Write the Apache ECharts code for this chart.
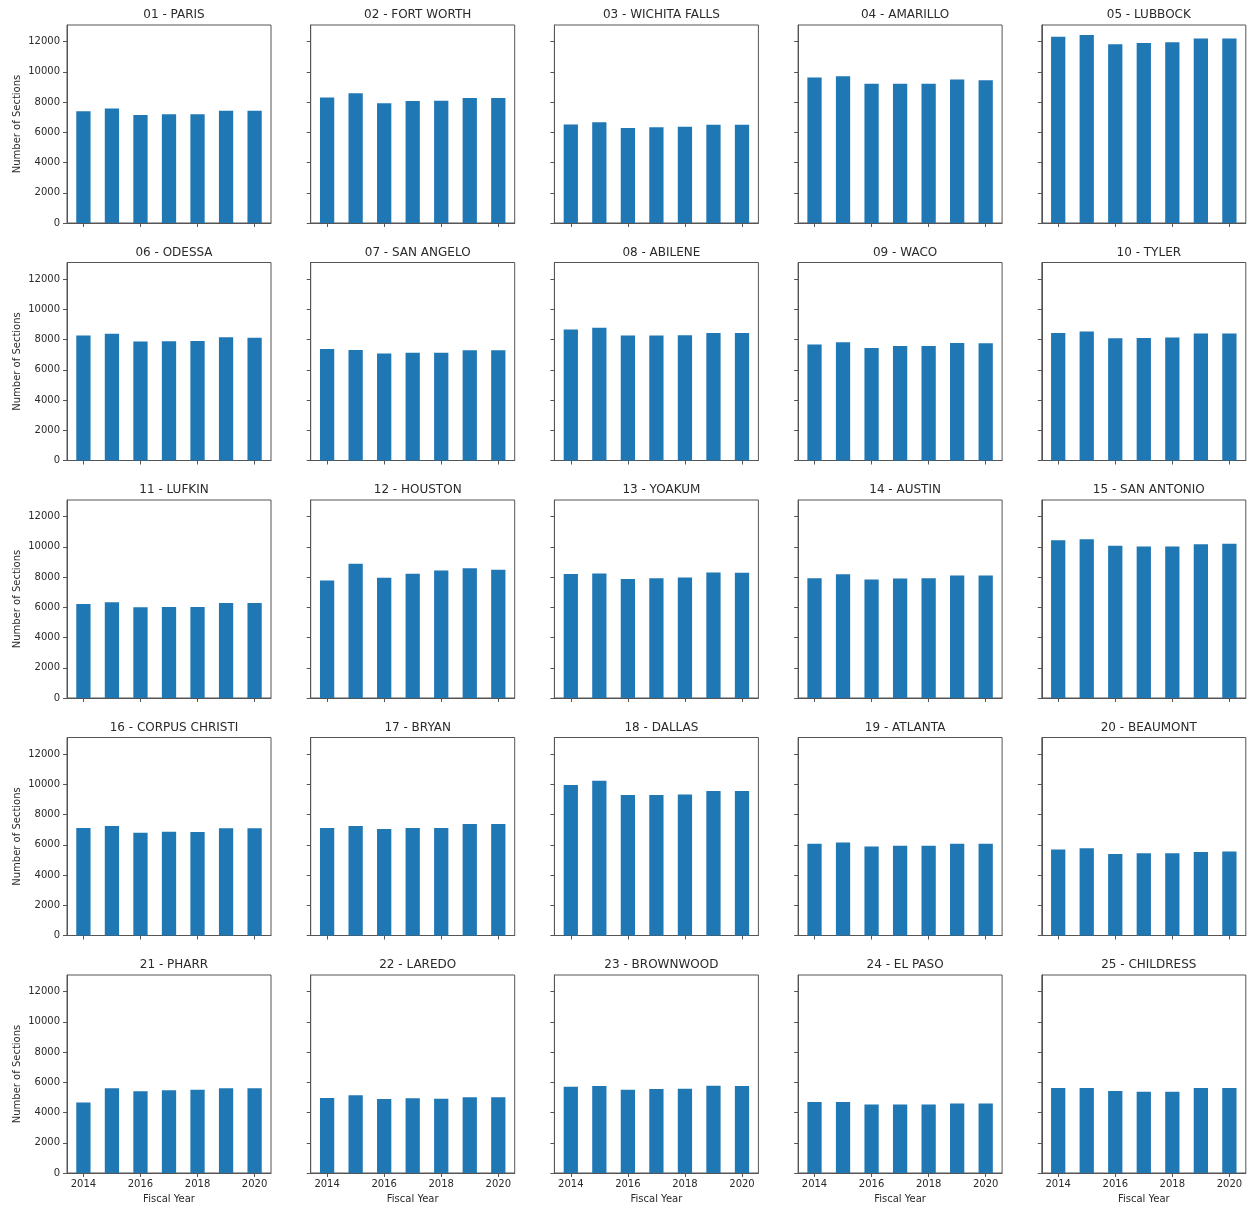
<!DOCTYPE html>
<html>
<head>
<meta charset="utf-8">
<script src="https://cdn.jsdelivr.net/npm/echarts@6/dist/echarts.min.js"></script>
<style>
html,body{margin:0;padding:0;background:#fff;}
#chart{width:1251px;height:1214px;}
</style>
</head>
<body>
<div id="chart"></div>
<script>
// ---- data ----
const years = [2014, 2015, 2016, 2017, 2018, 2019, 2020];
const xTickLabels = [2014, 2016, 2018, 2020];
const yTickLabels = [0, 2000, 4000, 6000, 8000, 10000, 12000];
const districts = [
  '01 - PARIS', '02 - FORT WORTH', '03 - WICHITA FALLS', '04 - AMARILLO', '05 - LUBBOCK',
  '06 - ODESSA', '07 - SAN ANGELO', '08 - ABILENE', '09 - WACO', '10 - TYLER',
  '11 - LUFKIN', '12 - HOUSTON', '13 - YOAKUM', '14 - AUSTIN', '15 - SAN ANTONIO',
  '16 - CORPUS CHRISTI', '17 - BRYAN', '18 - DALLAS', '19 - ATLANTA', '20 - BEAUMONT',
  '21 - PHARR', '22 - LAREDO', '23 - BROWNWOOD', '24 - EL PASO', '25 - CHILDRESS'
];
const paris        = [7400, 7570, 7150, 7200, 7200, 7430, 7430];
const fortWorth    = [8310, 8580, 7930, 8070, 8090, 8270, 8270];
const wichitaFalls = [6520, 6670, 6290, 6340, 6360, 6500, 6500];
const amarillo     = [9620, 9710, 9220, 9220, 9220, 9490, 9450];
const lubbock      = [12330, 12440, 11820, 11910, 11960, 12200, 12200];
const odessa       = [8270, 8380, 7870, 7890, 7910, 8160, 8120];
const sanAngelo    = [7380, 7310, 7080, 7130, 7130, 7290, 7290];
const abilene      = [8670, 8780, 8270, 8270, 8280, 8440, 8440];
const waco         = [7670, 7820, 7450, 7580, 7580, 7780, 7760];
const tyler        = [8440, 8530, 8090, 8110, 8130, 8400, 8400];
const lufkin       = [6220, 6330, 6000, 6020, 6020, 6290, 6290];
const houston      = [7780, 8890, 7960, 8220, 8440, 8580, 8490];
const yoakum       = [8200, 8240, 7870, 7930, 7980, 8310, 8290];
const austin       = [7930, 8180, 7840, 7910, 7930, 8110, 8110];
const sanAntonio   = [10440, 10510, 10070, 10020, 10020, 10180, 10200];
const corpusChristi= [7110, 7240, 6800, 6870, 6840, 7090, 7090];
const bryan        = [7110, 7240, 7040, 7110, 7110, 7380, 7380];
const dallas       = [9960, 10240, 9290, 9290, 9330, 9560, 9560];
const atlanta      = [6070, 6160, 5890, 5930, 5930, 6070, 6070];
const beaumont     = [5690, 5780, 5400, 5440, 5440, 5530, 5560];
const pharr        = [4660, 5610, 5410, 5470, 5500, 5610, 5610];
const laredo       = [4960, 5150, 4900, 4950, 4920, 5020, 5020];
const brownwood    = [5710, 5760, 5510, 5560, 5580, 5780, 5760];
const elPaso       = [4700, 4700, 4540, 4540, 4540, 4600, 4600];
const childress    = [5620, 5620, 5420, 5380, 5380, 5620, 5620];
const seriesValues = [
  paris, fortWorth, wichitaFalls, amarillo, lubbock,
  odessa, sanAngelo, abilene, waco, tyler,
  lufkin, houston, yoakum, austin, sanAntonio,
  corpusChristi, bryan, dallas, atlanta, beaumont,
  pharr, laredo, brownwood, elPaso, childress
];

// ---- layout ----
const colLeft = 67, colStep = 243.7, rowTop = 25, rowStep = 237.5;
const gw = 204, gh = 198;
const yMax = 13100;
const xMin = 2013.425, xMax = 2020.575;
const FONT = 'DejaVu Sans';
const TXT = '#2a2a2a';
const LINE = '#555';

const grids = [], xAxes = [], yAxes = [], series = [], titles = [];
for (let i = 0; i < 25; i++) {
  const r = Math.floor(i / 5), c = i % 5;
  const left = colLeft + c * colStep;
  const top = rowTop + r * rowStep;
  grids.push({left: left, top: top, width: gw, height: gh, show: true,
    borderColor: LINE, borderWidth: 1, backgroundColor: '#fff', containLabel: false});
  titles.push({text: districts[i], left: left + gw / 2, top: top - 21, textAlign: 'center',
    textStyle: {fontFamily: FONT, fontSize: 12, fontWeight: 'normal', color: TXT}});
  xAxes.push({
    type: 'value', gridIndex: i, min: xMin, max: xMax,
    splitLine: {show: false},
    axisLine: {show: true, onZero: false, lineStyle: {color: LINE}},
    axisTick: {show: true, length: 4, customValues: xTickLabels, lineStyle: {color: LINE}},
    axisLabel: {show: r === 4, customValues: xTickLabels, margin: 6,
      fontFamily: FONT, fontSize: 10, color: TXT, formatter: v => String(v)},
    name: r === 4 ? 'Fiscal Year' : '', nameLocation: 'middle', nameGap: 21,
    nameTextStyle: {fontFamily: FONT, fontSize: 10, color: TXT}
  });
  yAxes.push({
    type: 'value', gridIndex: i, min: 0, max: yMax,
    splitLine: {show: false},
    axisLine: {show: true, lineStyle: {color: LINE}},
    axisTick: {show: true, length: 4, customValues: yTickLabels, lineStyle: {color: LINE}},
    axisLabel: {show: c === 0, customValues: yTickLabels, margin: 7,
      fontFamily: FONT, fontSize: 10, color: TXT, formatter: v => String(v)},
    name: c === 0 ? 'Number of Sections' : '', nameLocation: 'middle', nameGap: 45,
    nameTextStyle: {fontFamily: FONT, fontSize: 10, color: TXT}
  });
  series.push({
    type: 'bar', xAxisIndex: i, yAxisIndex: i,
    data: years.map((y, k) => [y, seriesValues[i][k]]),
    barWidth: '50%',
    itemStyle: {color: '#1f77b4'},
    animation: false
  });
}

const chart = echarts.init(document.getElementById('chart'), null, {renderer: 'canvas'});
chart.setOption({
  animation: false,
  backgroundColor: '#fff',
  title: titles,
  grid: grids,
  xAxis: xAxes,
  yAxis: yAxes,
  series: series
});
</script>
</body>
</html>
